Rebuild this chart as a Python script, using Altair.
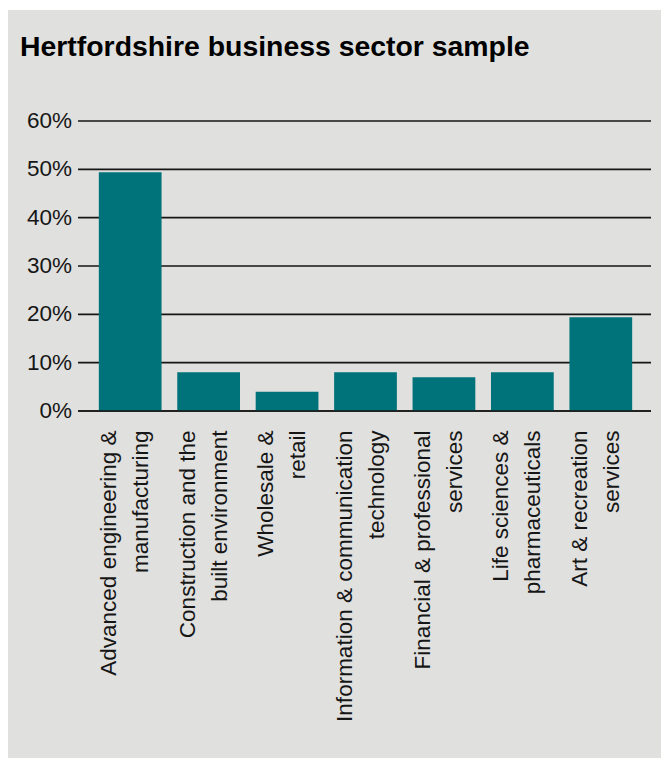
import altair as alt
import pandas as pd

# ---- data ----
sectors = [
    "Advanced engineering &\nmanufacturing",
    "Construction and the\nbuilt environment",
    "Wholesale &\nretail",
    "Information & communication\ntechnology",
    "Financial & professional\nservices",
    "Life sciences &\npharmaceuticals",
    "Art & recreation\nservices",
]
shares = [49.4, 8.0, 4.0, 8.0, 7.0, 8.0, 19.4]
y_ticks = [0, 10, 20, 30, 40, 50, 60]
title_text = "Hertfordshire business sector sample"

# ---- layout ----
W, H = 571, 290
PAD = {"left": 80, "top": 121, "right": 10, "bottom": 347}
CANVAS_W, CANVAS_H = 661, 758
PANEL_X0, PANEL_Y0 = 8, 10

LABEL_FONT = "Liberation Sans Narrow, Liberation Sans, Arial, sans-serif"
TITLE_FONT = "Liberation Sans, Arial, Helvetica, sans-serif"
TEAL = "#00737a"
PANEL = "#e0e0de"
INK = "#161616"

bars_df = pd.DataFrame({"sector": sectors, "share": shares})
grid_df = pd.DataFrame({"tick": y_ticks})
panel_df = pd.DataFrame({"panel": [1]})

yscale = alt.Scale(domain=[0, 60], nice=False, zero=True)

panel = alt.Chart(panel_df).mark_rect(color=PANEL).encode(
    x=alt.value(PANEL_X0 - PAD["left"]),
    x2=alt.value(CANVAS_W - PAD["left"]),
    y=alt.value(PANEL_Y0 - PAD["top"]),
    y2=alt.value(CANVAS_H - PAD["top"]),
)

grid = alt.Chart(grid_df).mark_rule(color=INK, strokeWidth=1.6).encode(
    y=alt.Y("tick:Q", scale=yscale, axis=None),
    x=alt.value(-2),
    x2=alt.value(W),
)

# y-axis tick labels (percent), placed through the shared y scale
ylabels = (
    alt.Chart(grid_df)
    .transform_calculate(label="datum.tick + '%'")
    .mark_text(align="right", baseline="middle", font=LABEL_FONT, fontSize=22.5, color=INK)
    .encode(
        y=alt.Y("tick:Q", scale=yscale, axis=None),
        x=alt.value(-8),
        text="label:N",
    )
)

bars = alt.Chart(bars_df).mark_bar(color=TEAL).encode(
    x=alt.X(
        "sector:N",
        sort=None,
        scale=alt.Scale(paddingInner=0.2, paddingOuter=0.24),
        axis=alt.Axis(
            title=None,
            labelAngle=-90,
            labelExpr="split(datum.label, '\\n')",
            labelFont=LABEL_FONT,
            labelFontSize=22.5,
            labelLineHeight=32,
            labelLimit=400,
            labelPadding=19,
            labelOffset=-21,
            labelColor=INK,
            domain=False,
            ticks=False,
            zindex=1,
        ),
    ),
    y=alt.Y("share:Q", scale=yscale, axis=None),
)

baseline = (
    alt.Chart(grid_df)
    .transform_filter("datum.tick == 0")
    .mark_rule(color=INK, strokeWidth=1.6)
    .encode(y=alt.Y("tick:Q", scale=yscale, axis=None), x=alt.value(-2), x2=alt.value(W))
)

chart = (
    alt.layer(panel, grid, ylabels, bars, baseline)
    .properties(
        width=W,
        height=H,
        padding=PAD,
        autosize=alt.AutoSizeParams(type="none"),
        background="#ffffff",
        title=alt.TitleParams(
            text=title_text,
            anchor="start",
            frame="group",
            font=TITLE_FONT,
            fontSize=28.4,
            fontWeight="bold",
            color="#000000",
            offset=0,
            dx=-60,
            dy=52,
            zindex=1,
        ),
    )
    .configure_view(stroke="transparent")
)

chart.save("out.html", embed_options={"renderer": "svg", "actions": False})
